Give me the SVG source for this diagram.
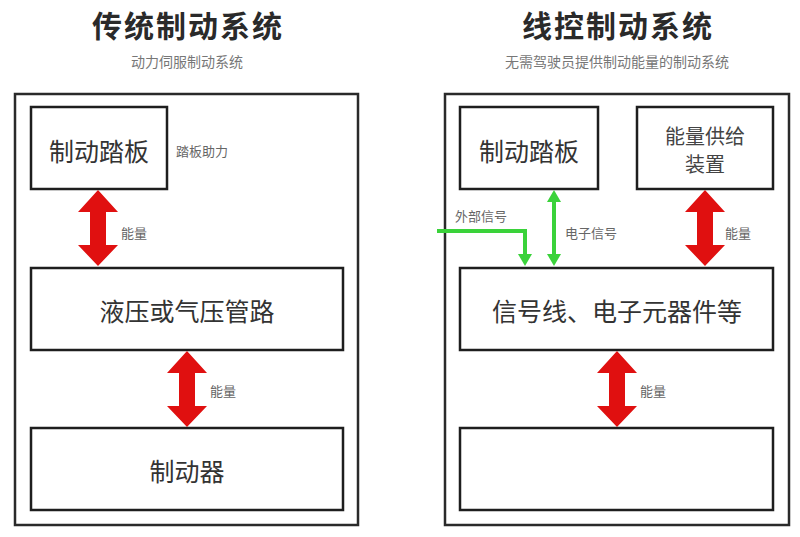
<svg xmlns="http://www.w3.org/2000/svg" width="800" height="537" viewBox="0 0 800 537">
<style>
.frame{fill:none;stroke:#2a2a2a;stroke-width:2.5}
.box{fill:#fff;stroke:#1e1e1e;stroke-width:2.5}
.title{font-family:"Noto Sans CJK SC","Noto Sans",sans-serif;font-weight:bold;font-size:30px;letter-spacing:2px;fill:#2a2a2a;text-anchor:middle}
.sub{font-family:"Noto Sans CJK SC",sans-serif;font-size:14px;fill:#777;text-anchor:middle}
.lbl{font-family:"Noto Sans CJK SC",sans-serif;font-size:25px;fill:#333;text-anchor:middle;dominant-baseline:central}
.lbl2{font-family:"Noto Sans CJK SC",sans-serif;font-size:20px;fill:#444;text-anchor:middle;dominant-baseline:central}
.sm{font-family:"Noto Sans CJK SC",sans-serif;font-size:13px;fill:#666;dominant-baseline:central}
.red{fill:#e01010}
.grn{fill:none;stroke:#3ad23a;stroke-width:4}
.gh{fill:#3ad23a}
</style>
<rect width="800" height="537" fill="#fff"/>
<text class="title" x="188" y="37">传统制动系统</text>
<text class="sub" x="187" y="67">动力伺服制动系统</text>
<text class="title" x="618" y="37">线控制动系统</text>
<text class="sub" x="617" y="67">无需驾驶员提供制动能量的制动系统</text>
<rect class="frame" x="15" y="94" width="343" height="431"/>
<rect class="frame" x="445" y="94" width="344" height="431"/>
<g id="l-pedal"><rect class="box" x="31" y="107" width="136" height="82"/><text class="lbl" x="99" y="150">制动踏板</text></g>
<g id="l-pipe"><rect class="box" x="31" y="268" width="312" height="82"/><text class="lbl" x="187" y="310">液压或气压管路</text></g>
<g id="l-brake"><rect class="box" x="31" y="428" width="312" height="82"/><text class="lbl" x="187" y="470">制动器</text></g>
<g id="r-pedal"><rect class="box" x="460" y="107" width="138" height="82"/><text class="lbl" x="529" y="150">制动踏板</text></g>
<g id="r-energy"><rect class="box" x="637" y="107" width="136" height="82"/><text class="lbl2" x="705" y="135">能量供给</text><text class="lbl2" x="705" y="163">装置</text></g>
<g id="r-signal"><rect class="box" x="460" y="268" width="313" height="82"/><text class="lbl" x="617" y="310">信号线、电子元器件等</text></g>
<g id="r-brake"><rect class="box" x="460" y="428" width="313" height="82"/></g>
<g id="connectors">
<polygon class="red" points="98,190 118,212 106,212 106,245 118,245 98,266 78,245 90,245 90,212 78,212"/>
<polygon class="red" points="187,351 207,373 195,373 195,406 207,406 187,427 167,406 179,406 179,373 167,373"/>
<polygon class="red" points="705,190 725,212 713,212 713,245 725,245 705,266 685,245 697,245 697,212 685,212"/>
<polygon class="red" points="617,351 637,373 625,373 625,406 637,406 617,427 597,406 609,406 609,373 597,373"/>
<line class="grn" x1="554" y1="200" x2="554" y2="256"/>
<polygon class="gh" points="554,190 561,202 547,202"/>
<polygon class="gh" points="554,266 561,254 547,254"/>
<polyline class="grn" points="437,231 525,231 525,256"/>
<polygon class="gh" points="525,266 532,254 518,254"/>
</g>
<text class="sm" x="176" y="150">踏板助力</text>
<text class="sm" x="121" y="232">能量</text>
<text class="sm" x="210" y="390">能量</text>
<text class="sm" x="565" y="232">电子信号</text>
<text class="sm" x="455" y="215">外部信号</text>
<text class="sm" x="725" y="232">能量</text>
<text class="sm" x="640" y="390">能量</text>
</svg>
